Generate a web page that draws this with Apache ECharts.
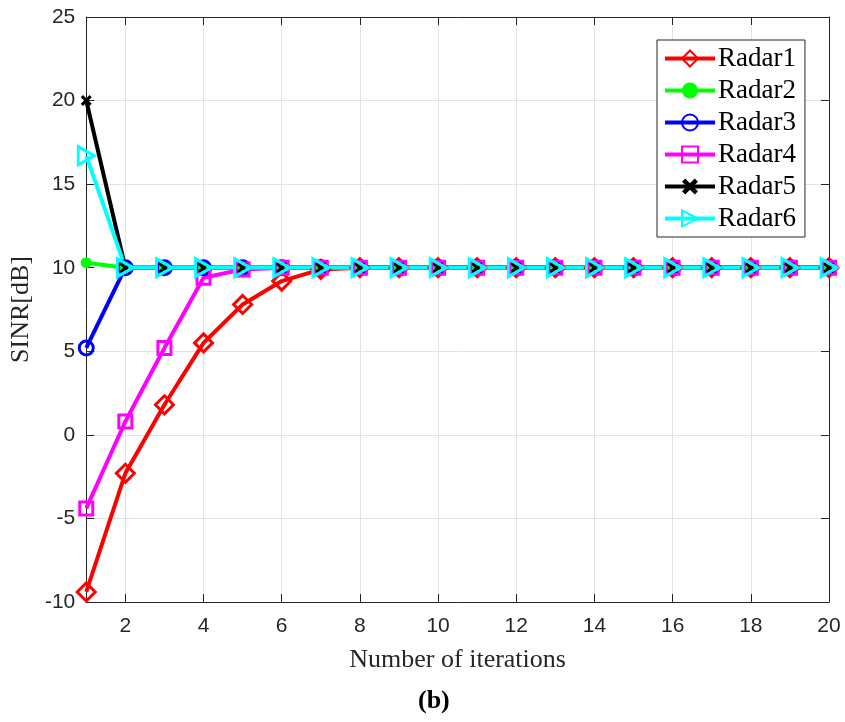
<!DOCTYPE html>
<html>
<head>
<meta charset="utf-8">
<title>SINR</title>
<script src="https://cdn.jsdelivr.net/npm/echarts@6/dist/echarts.min.js"></script>
<style>
	html, body { margin: 0; padding: 0; background: #fff; }
	#sinrChart { width: 845px; height: 722px; }
</style>
</head>
<body>
<div id="sinrChart"></div>
<script>
	//迭代次数
	var iterations = [1, 2, 3, 4, 5, 6, 7, 8, 9, 10, 11, 12, 13, 14, 15, 16, 17, 18, 19, 20];
	var xTicks = [2, 4, 6, 8, 10, 12, 14, 16, 18, 20];

	//各雷达 SINR[dB]
	var radar1 = [-9.4, -2.3, 1.8, 5.5, 7.8, 9.2, 9.9, 10, 10, 10, 10, 10, 10, 10, 10, 10, 10, 10, 10, 10];
	var radar2 = [10.3, 10, 10, 10, 10, 10, 10, 10, 10, 10, 10, 10, 10, 10, 10, 10, 10, 10, 10, 10];
	var radar3 = [5.2, 10, 10, 10, 10, 10, 10, 10, 10, 10, 10, 10, 10, 10, 10, 10, 10, 10, 10, 10];
	var radar4 = [-4.4, 0.8, 5.2, 9.4, 9.9, 10, 10, 10, 10, 10, 10, 10, 10, 10, 10, 10, 10, 10, 10, 10];
	var radar5 = [20, 10, 10, 10, 10, 10, 10, 10, 10, 10, 10, 10, 10, 10, 10, 10, 10, 10, 10, 10];
	var radar6 = [16.7, 10, 10, 10, 10, 10, 10, 10, 10, 10, 10, 10, 10, 10, 10, 10, 10, 10, 10, 10];

	var names = ['Radar1', 'Radar2', 'Radar3', 'Radar4', 'Radar5', 'Radar6'];

	var serif = '"Liberation Serif", "Times New Roman", serif';
	var sans = '"Liberation Sans", Arial, sans-serif';
	var axisColor = '#262626';

	//粗 x 形标记
	var crossPath = 'path://M0,2L2,0L5,3L8,0L10,2L7,5L10,8L8,10L5,7L2,10L0,8L3,5Z';
	//向右三角形
	var trianglePath = 'path://M0,0L18,10L0,20Z';

	function pairs(values) {
		return iterations.map(function(x, i) {
			return [x, values[i]];
		});
	}

	//单条曲线
	function makeSeries(name, values, color, symbol, size, hollow) {
		return {
			name: name,
			type: 'line',
			data: pairs(values),
			symbol: symbol,
			symbolSize: size,
			showAllSymbol: true,
			animation: false,
			lineStyle: {
				color: color,
				width: 4
			},
			itemStyle: {
				color: hollow ? 'rgba(255,255,255,0)' : color,
				borderColor: color,
				borderWidth: hollow ? 3 : 0
			},
			emphasis: { disabled: true }
		};
	}

	function sinrChart() {
		var chart = echarts.init(document.getElementById('sinrChart'));

		var option = {
			backgroundColor: '#fff',
			animation: false,
			title: {
				text: '{n|(}{b|b}{n|)}',
				left: 418,
				top: 688,
				padding: 0,
				textStyle: {
					rich: {
						n: { fontFamily: serif, fontSize: 26, color: '#000' },
						b: { fontFamily: serif, fontSize: 26, fontWeight: 'bold', color: '#000' }
					}
				}
			},
			legend: {
				orient: 'vertical',
				left: 657,
				top: 40,
				padding: [5, 9, 5, 6],
				itemGap: 5,
				itemWidth: 50,
				itemHeight: 20,
				backgroundColor: '#fff',
				borderColor: axisColor,
				borderWidth: 1,
				borderRadius: 0,
				lineStyle: { width: 4 },
				textStyle: {
					fontFamily: serif,
					fontSize: 27,
					color: '#000',
					padding: [0, 0, 0, -2]
				},
				data: names
			},
			grid: {
				left: 84,
				right: 16,
				top: 17,
				bottom: 120
			},
			xAxis: [{
				type: 'value',
				min: 1,
				max: 20,
				name: 'Number of iterations',
				nameLocation: 'middle',
				nameGap: 45,
				nameTextStyle: { fontFamily: serif, fontSize: 26, color: '#262626' },
				axisLine: { onZero: false, lineStyle: { color: axisColor, width: 1 } },
				axisTick: { inside: true, length: 8, customValues: xTicks, lineStyle: { color: axisColor } },
				axisLabel: { customValues: xTicks, fontFamily: sans, fontSize: 21, color: axisColor, margin: 14 },
				splitLine: { show: true, lineStyle: { color: '#e3e3e3', width: 1 } }
			}, {
				type: 'value',
				position: 'top',
				min: 1,
				max: 20,
				axisLine: { onZero: false, lineStyle: { color: axisColor, width: 1 } },
				axisTick: { inside: true, length: 8, customValues: xTicks, lineStyle: { color: axisColor } },
				axisLabel: { show: false },
				splitLine: { show: false }
			}],
			yAxis: [{
				type: 'value',
				min: -10,
				max: 25,
				interval: 5,
				name: 'SINR[dB]',
				nameLocation: 'middle',
				nameGap: 46,
				nameTextStyle: { fontFamily: serif, fontSize: 26, color: '#262626' },
				axisLine: { show: true, onZero: false, lineStyle: { color: axisColor, width: 1 } },
				axisTick: { show: true, inside: true, length: 8, lineStyle: { color: axisColor } },
				axisLabel: { fontFamily: sans, fontSize: 21, color: axisColor, margin: 11 },
				splitLine: { show: true, lineStyle: { color: '#e3e3e3', width: 1 } }
			}, {
				type: 'value',
				position: 'right',
				min: -10,
				max: 25,
				interval: 5,
				axisLine: { show: true, onZero: false, lineStyle: { color: axisColor, width: 1 } },
				axisTick: { show: true, inside: true, length: 8, lineStyle: { color: axisColor } },
				axisLabel: { show: false },
				splitLine: { show: false }
			}],
			series: [
				makeSeries('Radar1', radar1, '#ff0000', 'diamond', 18, true),
				makeSeries('Radar2', radar2, '#00ff00', 'circle', 11, false),
				makeSeries('Radar3', radar3, '#0000ff', 'circle', 14, true),
				makeSeries('Radar4', radar4, '#ff00ff', 'rect', 13, true),
				makeSeries('Radar5', radar5, '#000000', crossPath, 11, false),
				makeSeries('Radar6', radar6, '#00ffff', trianglePath, [16, 18], true)
			]
		};

		chart.setOption(option);
	}

	sinrChart();
</script>
</body>
</html>
